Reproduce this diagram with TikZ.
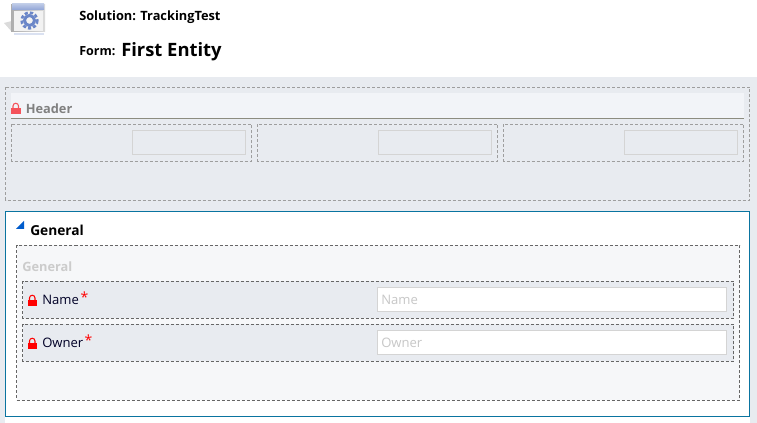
\documentclass[tikz,border=0pt]{standalone}
\usepackage{fontspec}
\setmainfont{Open Sans}
\usepackage{xcolor}
\definecolor{pagegray}{HTML}{E8EBF0}
\definecolor{bandgray}{HTML}{F2F4F8}
\definecolor{bandline}{HTML}{8C8C80}
\definecolor{sectionfill}{HTML}{F6F7F9}
\definecolor{tealline}{HTML}{0A74A0}
\definecolor{lockred}{HTML}{F00A14}
\definecolor{gearblue}{HTML}{6A86C8}
\tikzset{
    dashbox/.style={draw=black!60,dash pattern=on 2.25pt off 1.5pt,line width=0.75pt},
    lightdash/.style={draw=black!38,dash pattern=on 2.25pt off 1.5pt,line width=0.75pt},
    inputbox/.style={draw=black!17,line width=0.75pt},
    rowlabel/.style={anchor=west,inner sep=0pt,font=\fontsize{9.8}{12}\selectfont,text=black!85!blue},
    hint/.style={anchor=west,inner sep=0pt,font=\fontsize{9.8}{12}\selectfont,text=black!22},
    starmark/.style={anchor=center,inner sep=0pt,text=red,font=\fontsize{10.5}{12}\selectfont},
}
\newcommand{\lockicon}[3]{% x, y of the body's top left corner, colour
    \draw[#3,line width=0.8pt] (#1+2,#2) -- (#1+2,#2-2) arc[start angle=180,end angle=360,radius=2.75] -- (#1+7.5,#2);
    \fill[#3] (#1,#2) rectangle (#1+9.5,#2+6.5);
}
\begin{document}
\begin{tikzpicture}[x=0.75pt,y=-0.75pt]
    \useasboundingbox (0,0) rectangle (757,423);
    \fill[white] (0,0) rectangle (757,423);
    \fill[pagegray] (0,77) rectangle (757,417);
    \fill[pagegray] (750,417) rectangle (757,423);
    \fill[pagegray] (0,417) rectangle (5,423);
    % icon
    \fill[black!14] (4,23) -- (12,21) -- (12,32) -- cycle;
    \fill[left color=black!32,right color=black!14] (11,5) rectangle (45,32);
    \fill[top color=gearblue!45,bottom color=gearblue!75] (12,4) rectangle (44,10);
    \fill[black!5] (14,11) rectangle (43,31);
    \fill[gearblue!25] (14,33) rectangle (44,35.5);
    \draw[gearblue,line width=2pt,dash pattern=on 2.4pt off 1.55pt] (29.5,20.5) circle[radius=7.8];
    \draw[gearblue,line width=2.2pt] (29.5,20.5) circle[radius=5];
    % title
    \node[anchor=west,inner sep=0pt,font=\fontsize{9.6}{12}\selectfont\bfseries] (solution) at (79,17.5) {Solution: TrackingTest};
    \node[anchor=west,inner sep=0pt,font=\fontsize{9.4}{12}\selectfont\bfseries] (form) at (79,51.5) {Form:};
    \node[anchor=west,inner sep=0pt,font=\fontsize{13.8}{16}\selectfont\bfseries] (entity) at (121,52) {First Entity};
    % header
    \draw[lightdash] (5.5,87.5) rectangle (749.5,200.5);
    \fill[bandgray] (11,93) rectangle (744,118);
    \draw[bandline,line width=0.75pt] (11,118.5) -- (744,118.5);
    \lockicon{11}{108}{lockred!70}
    \node[anchor=west,inner sep=0pt,text=black!50,font=\fontsize{9.6}{12}\selectfont\bfseries] (header) at (25.5,108.5) {Header};
    \foreach \cellx in {0,246,492}{
        \draw[lightdash] (11.5+\cellx,124.5) rectangle (251.5+\cellx,161.5);
        \draw[inputbox] (132.5+\cellx,130.5) rectangle (245.5+\cellx,154.5);
    }
    % general section
    \draw[fill=white,draw=tealline,line width=0.75pt] (5.5,211.5) rectangle (749.5,416.5);
    \fill[blue!55!cyan!80!black] (24,221) -- (24,229) -- (16,229) -- cycle;
    \node[anchor=west,inner sep=0pt,font=\fontsize{10.3}{12}\selectfont\bfseries] (general) at (30,230) {General};
    \draw[dashbox,fill=sectionfill] (16.5,245.5) rectangle (739.5,400.5);
    \node[anchor=west,inner sep=0pt,text=black!20,font=\fontsize{9.6}{12}\selectfont\bfseries] (tabname) at (22,266.5) {General};
    \foreach \rowy/\rowname/\starx in {281/Name/84.5,324/Owner/88.5}{
        \draw[dashbox,fill=pagegray] (22.5,\rowy+0.5) rectangle (733.5,\rowy+37.5);
        \draw[inputbox,fill=white] (377.5,\rowy+6.5) rectangle (726.5,\rowy+30.5);
        \lockicon{27.5}{\rowy+19}{red}
        \node[rowlabel] at (42,\rowy+19) {\rowname};
        \node[hint] at (381,\rowy+18.5) {\rowname};
        \node[starmark] at (\starx,\rowy+16) {*};
    }
\end{tikzpicture}
\end{document}
